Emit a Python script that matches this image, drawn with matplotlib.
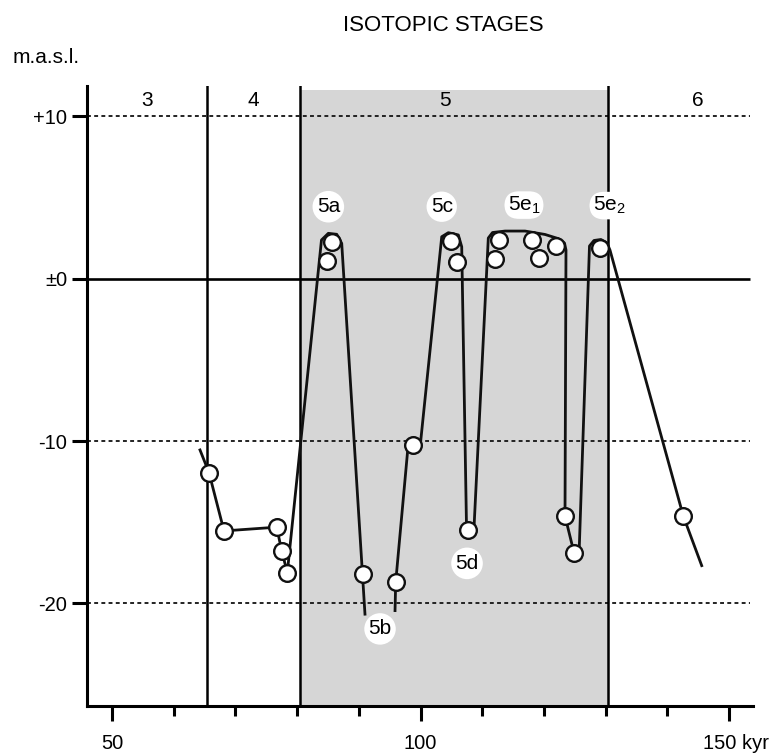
import matplotlib
matplotlib.use("Agg")
import matplotlib.pyplot as plt
from matplotlib.patches import Rectangle

plt.rcParams['font.family'] = ['Liberation Sans', 'DejaVu Sans']
plt.rcParams['mathtext.fontset'] = 'custom'
plt.rcParams['mathtext.rm'] = 'Liberation Sans'
plt.rcParams['mathtext.it'] = 'Liberation Sans'

# ---------------- data ----------------
stage_names = ['3', '4', '5', '6']
stage_label_age = [55.7, 72.9, 104.0, 145.0]
stage_bounds = [65.4, 80.47, 130.39]
warm_stage = (80.47, 130.39)

# measured sea-level points (kyr, m a.s.l.)
point_age = [65.72, 68.15, 76.69, 77.50, 78.41, 84.80, 85.61, 90.63, 95.98,
             98.83, 104.94, 105.96, 107.70, 112.07, 112.72, 118.02, 119.21,
             121.96, 123.42, 124.88, 129.09, 142.59]
point_level = [-11.95, -15.54, -15.31, -16.76, -18.11, 1.11, 2.26, -18.21,
               -18.70, -10.24, 2.33, 1.05, -15.51, 1.22, 2.39, 2.39, 1.30,
               2.02, -14.62, -16.88, 1.88, -14.62]

# interpreted sea-level curve (two pieces, broken at 5b)
curve_a_age = [64.26, 65.72, 68.15, 76.69, 77.50, 78.41, 83.95, 85.06, 86.42,
               87.23, 91.00]
curve_a_level = [-10.55, -11.95, -15.54, -15.31, -16.76, -18.11, 2.39, 2.80,
                 2.74, 2.18, -20.67]
curve_b_age = [95.87, 95.98, 97.97, 100.00, 103.44, 104.51, 106.13, 106.68,
               107.46, 108.67, 110.99, 111.67, 113.70, 116.94, 120.18, 122.29,
               123.34, 123.58, 123.42, 124.88, 125.74, 127.39, 128.12, 129.25,
               130.23, 130.71, 142.59, 145.58]
curve_b_level = [-20.45, -18.70, -10.37, -10.12, 2.59, 2.84, 2.70, 1.97,
                 -15.36, -15.36, 2.51, 2.85, 2.94, 2.94, 2.73, 2.48, 2.20,
                 1.77, -14.62, -16.88, -16.51, 2.02, 2.36, 2.42, 2.20, 1.77,
                 -14.62, -17.68]

substage_names = ['5a', '5b', '5c', '5d', '5e$_1$', '5e$_2$']
substage_age = [85.06, 93.44, 103.44, 107.54, 116.77, 130.55]
substage_level = [4.44, -21.58, 4.44, -17.54, 4.54, 4.51]

level_ticks = [10, 0, -10, -20]
level_tick_labels = ['+10', '\u00b10', '-10', '-20']
age_major = [50, 100, 150]
age_major_labels = ['50', '100', '']
age_minor = [60, 70, 80, 90, 110, 120, 130, 140]
last_age_label = '150 kyr'

# ---------------- figure ----------------
XMIN, XMAX = 45.95, 153.89
YMIN, YMAX = -26.33, 11.88
SHADE_TOP = 11.63
LINE_END = 153.4

fig = plt.figure(figsize=(7.75, 7.55), dpi=100)
ax = fig.add_axes([0.1123, 0.0649, 0.8593, 0.8212])
ax.set_xlim(XMIN, XMAX)
ax.set_ylim(YMIN, YMAX)

# stage 5 shading
ax.add_patch(Rectangle((warm_stage[0], YMIN), warm_stage[1] - warm_stage[0],
                       SHADE_TOP - YMIN, facecolor='#d6d6d6',
                       edgecolor='none', zorder=0))

# reference lines
for lv in level_ticks:
    if lv == 0:
        ax.hlines(lv, XMIN, LINE_END, colors='black', lw=1.9, zorder=2)
    else:
        ax.hlines(lv, XMIN, LINE_END, colors='#222222', lw=1.4,
                  linestyles=(0, (2.0, 1.7)), zorder=1)

for b in stage_bounds:
    ax.axvline(b, color='black', lw=1.8, zorder=2)

for name, a in zip(stage_names, stage_label_age):
    ax.text(a, 10.64, name, ha='center', va='baseline', fontsize=15, zorder=5)

# curve
for xs, ys in ((curve_a_age, curve_a_level), (curve_b_age, curve_b_level)):
    ax.plot(xs, ys, color='#111111', lw=2.0, solid_joinstyle='round',
            zorder=3)

# points
ax.plot(point_age, point_level, 'o', ms=12.0, mfc='white', mec='#111111',
        mew=1.7, zorder=4, linestyle='none')

# substage labels
for name, a, lv in zip(substage_names, substage_age, substage_level):
    if '$' in name:
        box = dict(boxstyle='round,pad=0.15,rounding_size=0.7', fc='white',
                   ec='none')
    else:
        box = dict(boxstyle='circle,pad=0.2', fc='white', ec='none')
    ax.text(a, lv, name, ha='center', va='center', fontsize=15, bbox=box,
            zorder=6)

# axes styling
for s in ('top', 'right'):
    ax.spines[s].set_visible(False)
for s in ('left', 'bottom'):
    ax.spines[s].set_linewidth(2.2)

ax.set_yticks(level_ticks)
ax.set_yticklabels(level_tick_labels)
ax.set_xticks(age_major)
ax.set_xticklabels(age_major_labels)
ax.set_xticks(age_minor, minor=True)
ax.tick_params(axis='x', which='major', length=10.8, width=2.2, pad=9,
               labelsize=14.5)
ax.tick_params(axis='x', which='minor', length=7.2, width=2.2)
ax.tick_params(axis='y', length=10.8, width=2.2, pad=3.6, labelsize=14.5)

ax.annotate(last_age_label, xy=(age_major[-1], 0),
            xycoords=('data', 'axes fraction'), xytext=(-18.7, -19.8),
            textcoords='offset points', ha='left', va='top', fontsize=14.5)

fig.text(443.5 / 775, 1 - 25.5 / 755, 'ISOTOPIC STAGES', ha='center',
         va='center', fontsize=16)
fig.text(12.7 / 775, 1 - 57.5 / 755, 'm.a.s.l.', ha='left', va='center',
         fontsize=15)

fig.savefig('out.png', dpi=100)
